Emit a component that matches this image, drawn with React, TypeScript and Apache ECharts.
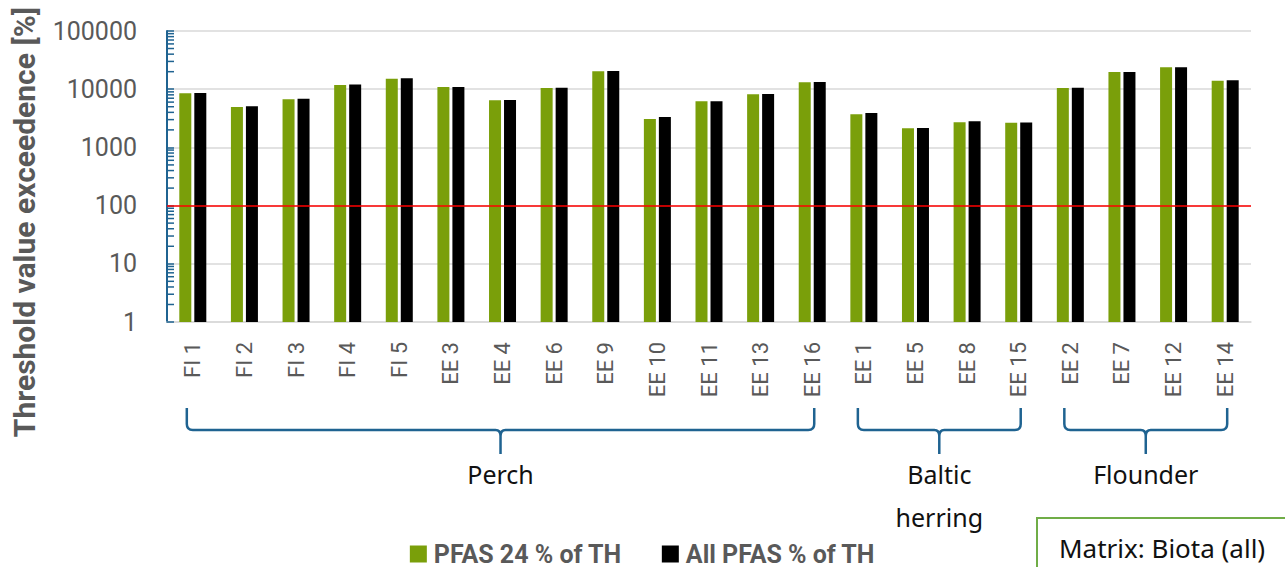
import React, { useEffect, useRef } from "react";
import * as echarts from "echarts";

// Sampling sites, grouped by fish species
const categories = [
  "FI 1", "FI 2", "FI 3", "FI 4", "FI 5", "EE 3", "EE 4", "EE 6", "EE 9", "EE 10", "EE 11", "EE 13", "EE 16",
  "EE 1", "EE 5", "EE 8", "EE 15",
  "EE 2", "EE 7", "EE 12", "EE 14",
];

// Threshold exceedance in percent of TH
const pfas24 = [8500, 4950, 6700, 11800, 15100, 10900, 6450, 10500, 20300, 3080, 6200, 8170, 13100, 3700, 2130, 2700, 2650, 10500, 19800, 23800, 14000];
const allPfas = [8600, 5080, 6870, 12100, 15400, 10900, 6520, 10600, 20500, 3330, 6200, 8270, 13300, 3900, 2150, 2810, 2680, 10600, 19800, 23800, 14200];

// Threshold reference line (100 %)
const thresholdLine = 100;

// Species groups: first category index, last category index, label
const groupStart = [0, 13, 17];
const groupEnd = [12, 16, 20];
const groupLabels = ["Perch", "Baltic\nherring", "Flounder"];

// Log axis decades and minor tick multipliers
const decades = [1, 10, 100, 1000, 10000];
const minorMultipliers = [2, 3, 4, 5, 6, 7, 8, 9];

const seriesNames = ["PFAS 24 % of TH", "All PFAS % of TH"];

const AXIS_BLUE = "#1f6391";
const GREY_TEXT = "#595959";

export default function App() {
  const ref = useRef<HTMLDivElement>(null);

  useEffect(() => {
    if (!ref.current) return;
    const chart = echarts.init(ref.current, undefined, { renderer: "svg" });

    const minorTicks: number[][] = [];
    decades.forEach((d) => minorMultipliers.forEach((m) => minorTicks.push([0, d * m])));

    const braceData = groupStart.map((s, i) => [s, groupEnd[i], i]);

    chart.setOption({
      animation: false,
      grid: { left: 167, right: 34, top: 31, bottom: 245, containLabel: false },
      legend: {
        data: seriesNames,
        left: "center",
        top: 541,
        padding: 0,
        icon: "rect",
        itemWidth: 17,
        itemHeight: 17,
        itemGap: 40,
        textStyle: {
          fontSize: 25,
          lineHeight: 26,
          fontWeight: "bold",
          color: GREY_TEXT,
          fontFamily: "Roboto",
          padding: [0, 0, 0, 2],
        },
      },
      xAxis: {
        type: "category",
        data: categories,
        axisLine: { lineStyle: { color: "#d9d9d9", width: 1.5 } },
        axisTick: { show: false },
        axisLabel: { rotate: 90, margin: 20, fontSize: 22, color: GREY_TEXT, fontFamily: "Roboto", interval: 0 },
      },
      yAxis: {
        type: "log",
        logBase: 10,
        min: 1,
        max: 100000,
        axisLine: { show: true, lineStyle: { color: AXIS_BLUE, width: 2 } },
        axisTick: { show: true, inside: true, length: 7, lineStyle: { color: AXIS_BLUE, width: 1.5 } },
        splitLine: { show: true, lineStyle: { color: "#d9d9d9", width: 1.5 } },
        axisLabel: {
          fontSize: 25,
          color: GREY_TEXT,
          fontFamily: "Roboto",
          margin: 30,
          formatter: (v: number) => String(Math.round(v)),
        },
      },
      series: [
        {
          name: seriesNames[0],
          type: "bar",
          data: pfas24,
          barWidth: 12,
          barGap: "25%",
          itemStyle: { color: "#7a9f0a" },
          markLine: {
            silent: true,
            symbol: "none",
            label: { show: false },
            lineStyle: { color: "#ff0000", width: 1.5, type: "solid" },
            data: [{ yAxis: thresholdLine }],
          },
        },
        {
          name: seriesNames[1],
          type: "bar",
          data: allPfas,
          barWidth: 12,
          itemStyle: { color: "#000000" },
        },
        {
          // logarithmic minor ticks on the value axis
          type: "custom",
          silent: true,
          z: 5,
          encode: { x: 0, y: 1 },
          data: minorTicks,
          renderItem: (params: any, api: any) => {
            const y = api.coord([0, api.value(1)])[1];
            const x = params.coordSys.x;
            return {
              type: "line",
              shape: { x1: x, y1: y, x2: x + 7, y2: y },
              style: { stroke: AXIS_BLUE, lineWidth: 1.5 },
            };
          },
        },
        {
          // curly braces and species labels below the category axis
          type: "custom",
          silent: true,
          clip: false,
          encode: { x: 0 },
          data: braceData,
          renderItem: (params: any, api: any) => {
            const cs = params.coordSys;
            const bottom = cs.y + cs.height;
            const xL = api.coord([api.value(0), 1])[0] - 6;
            const xR = api.coord([api.value(1), 1])[0] + 2;
            const xM = (xL + xR) / 2;
            const yTop = bottom + 86;
            const yH = bottom + 108;
            const yTip = bottom + 132;
            const r = 6;
            const d =
              `M${xL},${yTop} L${xL},${yH - r} Q${xL},${yH} ${xL + r},${yH} ` +
              `L${xM - 5},${yH} Q${xM},${yH} ${xM},${yH + 6} L${xM},${yTip} ` +
              `M${xM},${yH + 6} Q${xM},${yH} ${xM + 5},${yH} ` +
              `L${xR - r},${yH} Q${xR},${yH} ${xR},${yH - r} L${xR},${yTop}`;
            return {
              type: "group",
              children: [
                {
                  type: "path",
                  shape: { pathData: d },
                  style: { stroke: AXIS_BLUE, lineWidth: 2.5, fill: "none" },
                },
                {
                  type: "text",
                  x: xM,
                  y: bottom + 130,
                  style: {
                    text: groupLabels[api.value(2)],
                    align: "center",
                    verticalAlign: "top",
                    fontSize: 25,
                    lineHeight: 43,
                    fill: "#111111",
                    fontFamily: "Noto Sans",
                  },
                },
              ],
            };
          },
        },
      ],
      graphic: [
        {
          type: "text",
          x: 24,
          y: 222,
          rotation: Math.PI / 2,
          style: {
            text: "Threshold value exceedence [%]",
            align: "center",
            verticalAlign: "middle",
            fontSize: 30,
            fontWeight: "bold",
            fill: GREY_TEXT,
            fontFamily: "Roboto",
          },
        },
        {
          type: "rect",
          shape: { x: 1037, y: 518, width: 260, height: 60 },
          style: { fill: "#ffffff", stroke: "#70ad47", lineWidth: 2 },
        },
        {
          type: "text",
          x: 1059,
          y: 548,
          style: {
            text: "Matrix: Biota (all)",
            align: "left",
            verticalAlign: "middle",
            fontSize: 26,
            fill: "#111111",
            fontFamily: "Noto Sans",
          },
        },
      ],
    });

    return () => chart.dispose();
  }, []);

  return (
    <div
      ref={ref}
      style={{ position: "fixed", left: 0, top: 0, width: 1285, height: 567, background: "#ffffff" }}
    />
  );
}
